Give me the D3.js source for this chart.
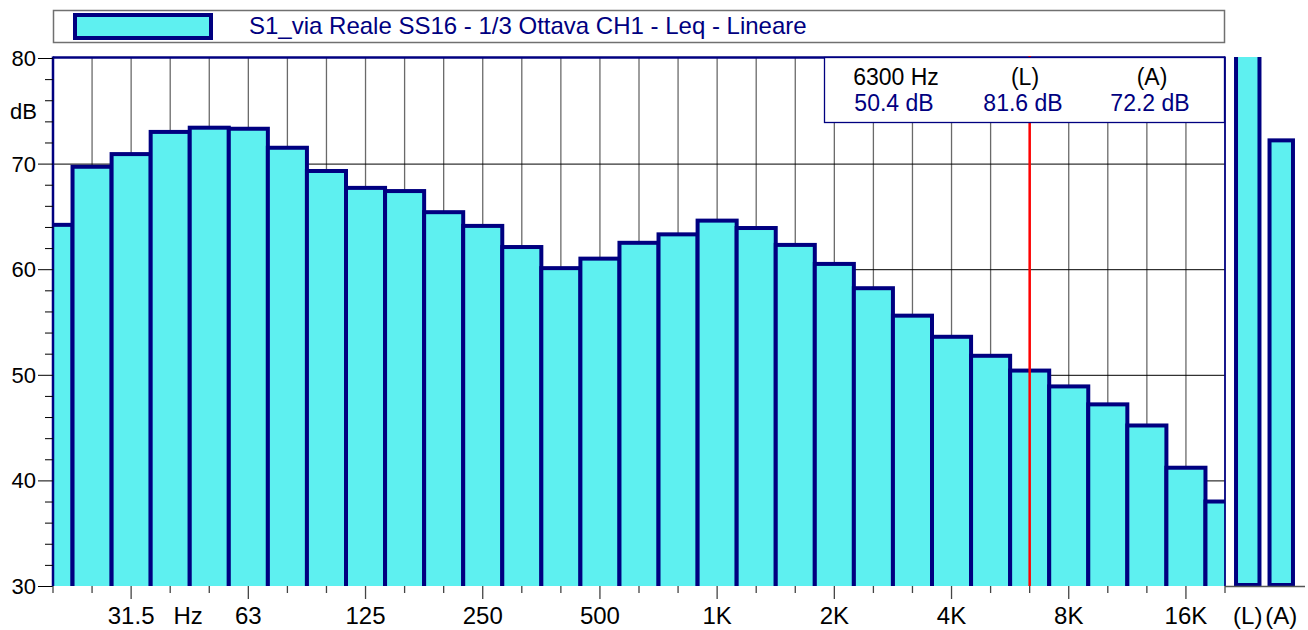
<!DOCTYPE html>
<html>
<head>
<meta charset="utf-8">
<script src="https://cdn.jsdelivr.net/npm/d3@7"></script>
<style>
  html, body { margin: 0; padding: 0; background: #ffffff; }
  svg { display: block; }
  text { font-family: "Liberation Sans", Arial, Helvetica, sans-serif; }
</style>
</head>
<body>
<svg id="chart" width="1308" height="630"></svg>
<script>
// ---- data ----
const bandLabels = ["20","25","31.5","40","50","63","80","100","125","160","200","250","315","400","500","630","800","1K","1.25K","1.6K","2K","2.5K","3.15K","4K","5K","6.3K","8K","10K","12.5K","16K","20K"];
const bandLevels = [64.2, 69.7, 70.9, 73.0, 73.4, 73.3, 71.5, 69.3, 67.7, 67.4, 65.4, 64.1, 62.1, 60.1, 61.0, 62.5, 63.3, 64.6, 63.9, 62.3, 60.5, 58.2, 55.6, 53.6, 51.8, 50.4, 48.9, 47.2, 45.2, 41.2, 38.0];
const xTickIndex = [2, 3, 5, 8, 11, 14, 17, 20, 23, 26, 29];
const xTickText = ["31.5", "Hz", "63", "125", "250", "500", "1K", "2K", "4K", "8K", "16K"];
const yTicks = [30, 40, 50, 60, 70, 80];
const totalLabels = ["(L)", "(A)"];
const totalValues = [81.6, 72.2];
const cursorIndex = 25;
const cursorFreqText = "6300 Hz";
const seriesName = "S1_via Reale SS16 - 1/3 Ottava CH1 - Leq - Lineare";

(function () {
// ---- setup ----
const NAVY = "#000080";
const FILL = "#5ef0f0";
const svg = d3.select("#chart");
const pL = 53, pR = 1225, pT = 58, pB = 586;

const x = d3.scaleLinear().domain([0, bandLabels.length - 1]).range([pL, pR]);
const y = d3.scaleLinear().domain([30, 80]).range([pB, pT]);
const xt = d3.scaleBand().domain(totalLabels).range([1231, 1298]).paddingInner(0.3).paddingOuter(0.15);

const defs = svg.append("defs");
defs.append("clipPath").attr("id", "plotClip").append("rect")
  .attr("x", pL).attr("y", pT).attr("width", pR - pL).attr("height", pB - pT);
defs.append("clipPath").attr("id", "totClip").append("rect")
  .attr("x", pR + 2).attr("y", pT - 1).attr("width", 80).attr("height", pB - pT + 3);

// ---- legend ----
svg.append("rect").attr("x", pL + 0.5).attr("y", 10.5).attr("width", pR - pL - 1).attr("height", 32)
  .attr("fill", "#fff").attr("stroke", "#707070").attr("stroke-width", 1.5);
svg.append("rect").attr("x", 75).attr("y", 15).attr("width", 136).attr("height", 23)
  .attr("fill", FILL).attr("stroke", NAVY).attr("stroke-width", 4);
svg.append("text").attr("x", 249).attr("y", 34).attr("font-size", 24).attr("fill", NAVY).text(seriesName);

// ---- grid ----
const grid = svg.append("g");
grid.selectAll("line.v").data(d3.range(1, bandLabels.length - 1)).join("line")
  .attr("x1", d => x(d)).attr("x2", d => x(d)).attr("y1", pT).attr("y2", pB)
  .attr("stroke", "#6a6a6a").attr("stroke-width", 1.3);
grid.selectAll("line.h").data(yTicks.filter(v => v > 30 && v < 80)).join("line")
  .attr("x1", pL).attr("x2", pR).attr("y1", d => y(d) + 0.5).attr("y2", d => y(d) + 0.5)
  .attr("stroke", "#000").attr("stroke-width", 1);

// ---- bars ----
svg.append("g").attr("clip-path", "url(#plotClip)")
  .selectAll("rect").data(bandLevels).join("rect")
  .attr("x", (d, i) => x(i - 0.5)).attr("width", (d, i) => x(i + 0.5) - x(i - 0.5))
  .attr("y", d => y(d)).attr("height", d => y(25) - y(d))
  .attr("fill", FILL).attr("stroke", NAVY).attr("stroke-width", 4);

// ---- frame ----
svg.append("line").attr("x1", pL).attr("x2", pR).attr("y1", pT - 0.5).attr("y2", pT - 0.5)
  .attr("stroke", NAVY).attr("stroke-width", 2.5);
svg.append("line").attr("x1", pL).attr("x2", pL).attr("y1", pT - 1.5).attr("y2", pB)
  .attr("stroke", NAVY).attr("stroke-width", 2.5);
svg.append("line").attr("x1", pR).attr("x2", pR).attr("y1", pT - 1.5).attr("y2", pB)
  .attr("stroke", NAVY).attr("stroke-width", 1.8);

// ---- cursor ----
svg.append("line").attr("x1", x(cursorIndex)).attr("x2", x(cursorIndex)).attr("y1", pT - 2).attr("y2", pB)
  .attr("stroke", "#ff0000").attr("stroke-width", 2.5);

// ---- info box ----
const ib = svg.append("g");
ib.append("rect").attr("x", 824.5).attr("y", 57.5).attr("width", 400).attr("height", 65)
  .attr("fill", "#fff").attr("stroke", NAVY).attr("stroke-width", 1.3);
const infoCols = [
  { cx: 896, head: cursorFreqText, val: bandLevels[cursorIndex] },
  { cx: 1025, head: totalLabels[0], val: totalValues[0] },
  { cx: 1152, head: totalLabels[1], val: totalValues[1] }
];
infoCols.forEach(c => {
  ib.append("text").attr("x", c.cx).attr("y", 85).attr("text-anchor", "middle")
    .attr("font-size", 23).attr("fill", "#000").text(c.head);
  ib.append("text").attr("x", c.cx - 2).attr("y", 111).attr("text-anchor", "middle")
    .attr("font-size", 23).attr("fill", NAVY).text(c.val.toFixed(1) + " dB");
});

// ---- totals (L)/(A) ----
svg.append("g").attr("clip-path", "url(#totClip)")
  .selectAll("rect").data(totalValues).join("rect")
  .attr("x", (d, i) => xt(totalLabels[i])).attr("width", xt.bandwidth())
  .attr("y", d => y(d)).attr("height", d => y(30) - 1 - y(d))
  .attr("fill", FILL).attr("stroke", NAVY).attr("stroke-width", 4);

// ---- y axis ----
const ya = svg.append("g");
ya.selectAll("line.minor").data(d3.range(32, 80, 2).filter(v => v % 10 !== 0)).join("line")
  .attr("x1", 45).attr("x2", pL).attr("y1", d => y(d) + 0.5).attr("y2", d => y(d) + 0.5)
  .attr("stroke", "#000").attr("stroke-width", 1);
ya.selectAll("line.major").data(yTicks).join("line")
  .attr("x1", 38).attr("x2", pL).attr("y1", d => y(d) + 0.5).attr("y2", d => y(d) + 0.5)
  .attr("stroke", "#000").attr("stroke-width", 1);
ya.selectAll("text").data(yTicks).join("text")
  .attr("x", 36).attr("y", d => y(d) + 8).attr("text-anchor", "end")
  .attr("font-size", 22).attr("fill", "#000").text(d => d);
ya.append("text").attr("x", 37).attr("y", 119).attr("text-anchor", "end")
  .attr("font-size", 22).attr("fill", "#000").text("dB");

// ---- x axis ----
const xa = svg.append("g");
xa.append("line").attr("x1", pR).attr("x2", 1305).attr("y1", pB + 0.5).attr("y2", pB + 0.5)
  .attr("stroke", "#555").attr("stroke-width", 1.3);
const longTicks = xTickIndex.filter((d, i) => xTickText[i] !== "Hz");
xa.selectAll("line.t").data(d3.range(0, bandLabels.length)).join("line")
  .attr("x1", d => x(d)).attr("x2", d => x(d))
  .attr("y1", pB).attr("y2", d => pB + (longTicks.includes(d) ? 13 : 7))
  .attr("stroke", "#444").attr("stroke-width", 1.3);
xa.selectAll("text.xl").data(xTickIndex).join("text")
  .attr("x", (d, i) => x(d) + (xTickText[i] === "Hz" ? 18 : 0)).attr("y", 624).attr("text-anchor", "middle")
  .attr("font-size", 24).attr("fill", "#000").text((d, i) => xTickText[i]);
xa.selectAll("text.tl").data(totalLabels).join("text")
  .attr("x", d => xt(d) + xt.bandwidth() / 2).attr("y", 624).attr("text-anchor", "middle")
  .attr("font-size", 24).attr("fill", "#000").text(d => d);
})();
</script>
</body>
</html>
